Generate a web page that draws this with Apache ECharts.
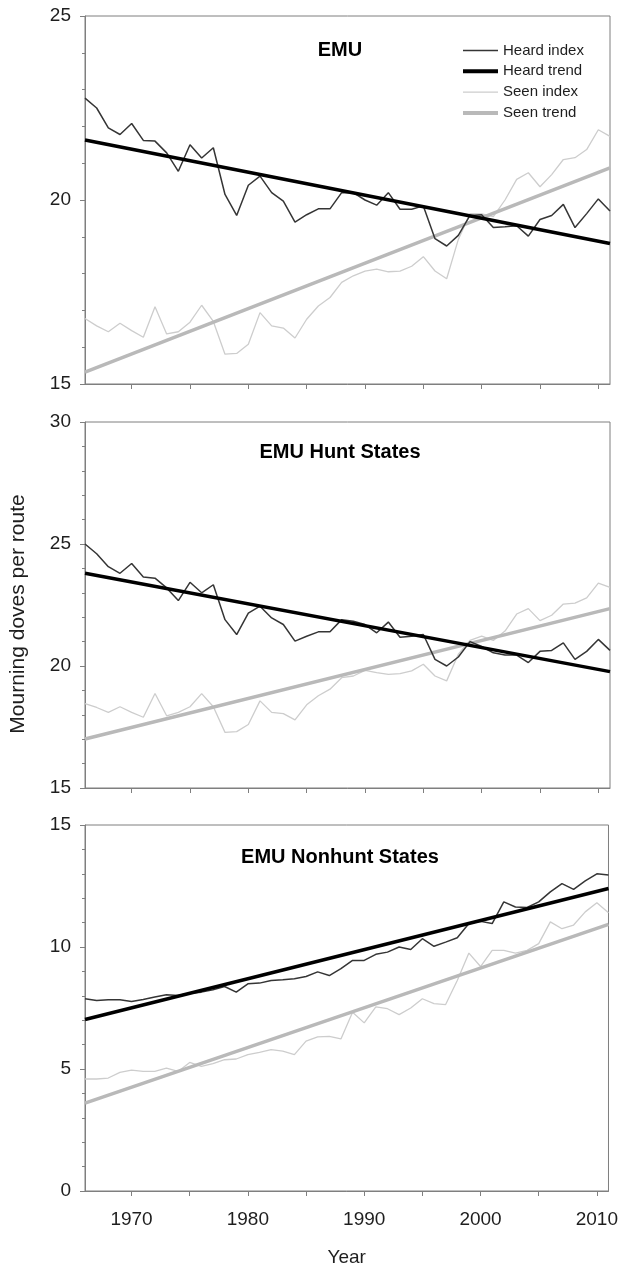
<!DOCTYPE html>
<html>
<head>
<meta charset="utf-8">
<script src="https://cdn.jsdelivr.net/npm/echarts@6/dist/echarts.min.js"></script>
<style>
html,body{margin:0;padding:0;background:#fff;}
#chart{width:621px;height:1270px;}
</style>
</head>
<body>
<div id="chart"></div>
<script>
var years = [1966,1967,1968,1969,1970,1971,1972,1973,1974,1975,1976,1977,1978,1979,1980,1981,1982,1983,1984,1985,1986,1987,1988,1989,1990,1991,1992,1993,1994,1995,1996,1997,1998,1999,2000,2001,2002,2003,2004,2005,2006,2007,2008,2009,2010,2011];
var trendYears = [1966, 2011];
var xTickValues = [1970,1975,1980,1985,1990,1995,2000,2005,2010];
var xLabelValues = [1970,1980,1990,2000,2010];
var panelTitles = ['EMU', 'EMU Hunt States', 'EMU Nonhunt States'];
var seriesNames = ['Heard index', 'Heard trend', 'Seen index', 'Seen trend'];

// EMU
var emuHeard = [22.77,22.5,21.96,21.78,22.08,21.62,21.6,21.28,20.78,21.5,21.14,21.42,20.15,19.58,20.4,20.65,20.2,19.97,19.4,19.6,19.76,19.76,20.2,20.2,20.0,19.86,20.2,19.75,19.75,19.84,18.95,18.75,19.04,19.58,19.6,19.25,19.27,19.3,19.02,19.47,19.58,19.88,19.25,19.63,20.03,19.7];
var emuSeen = [16.78,16.58,16.42,16.65,16.45,16.27,17.1,16.36,16.42,16.68,17.14,16.7,15.81,15.83,16.08,16.94,16.58,16.52,16.25,16.76,17.12,17.35,17.76,17.94,18.07,18.12,18.05,18.07,18.2,18.46,18.07,17.86,18.93,19.63,19.62,19.55,20.0,20.56,20.74,20.36,20.69,21.1,21.15,21.37,21.91,21.73];
var emuHeardTrend = [21.63, 18.82];
var emuSeenTrend = [15.32, 20.87];

// EMU Hunt States
var huntHeard = [25.0,24.6,24.07,23.8,24.2,23.65,23.6,23.2,22.68,23.43,23.0,23.33,21.9,21.29,22.17,22.45,21.97,21.7,21.02,21.22,21.4,21.4,21.9,21.83,21.7,21.36,21.8,21.18,21.22,21.29,20.27,20.0,20.37,21.0,20.8,20.54,20.45,20.45,20.14,20.6,20.64,20.95,20.27,20.6,21.09,20.64];
var huntSeen = [18.46,18.3,18.1,18.33,18.1,17.9,18.87,17.96,18.1,18.33,18.87,18.33,17.28,17.31,17.6,18.57,18.1,18.05,17.79,18.41,18.78,19.05,19.52,19.59,19.82,19.73,19.66,19.69,19.8,20.07,19.59,19.39,20.48,21.05,21.22,21.05,21.43,22.13,22.35,21.86,22.08,22.54,22.58,22.79,23.4,23.22];
var huntHeardTrend = [23.8, 19.77];
var huntSeenTrend = [17.01, 22.35];

// EMU Nonhunt States
var nonhuntHeard = [7.88,7.81,7.84,7.84,7.77,7.85,7.95,8.04,8.01,8.1,8.15,8.25,8.38,8.15,8.49,8.52,8.63,8.66,8.7,8.79,8.98,8.83,9.11,9.45,9.45,9.7,9.79,10.0,9.9,10.34,10.03,10.2,10.38,10.96,11.05,10.96,11.85,11.64,11.62,11.85,12.26,12.6,12.36,12.71,13.0,12.95];
var nonhuntSeen = [4.59,4.59,4.63,4.86,4.95,4.9,4.9,5.04,4.9,5.27,5.11,5.22,5.38,5.41,5.59,5.68,5.79,5.73,5.59,6.14,6.32,6.34,6.23,7.33,6.89,7.55,7.47,7.23,7.5,7.88,7.68,7.64,8.63,9.75,9.2,9.86,9.86,9.75,9.86,10.14,11.03,10.75,10.9,11.44,11.81,11.4];
var nonhuntHeardTrend = [7.03, 12.4];
var nonhuntSeenTrend = [3.6, 10.93];

var yRanges = [[15, 25], [15, 30], [0, 15]];

var FONT = "'Liberation Sans', Arial, sans-serif";
var AXIS_COLOR = '#7f7f7f';
var TEXT_COLOR = '#1e1e1e';

var gridTops = [16, 422, 825];
var gridHeights = [368, 366, 366];

// style per series: [color, width]
var seriesStyles = {
  'Heard index': ['#353535', 1.5],
  'Heard trend': ['#000000', 3.5],
  'Seen index': ['#cdcdcd', 1.3],
  'Seen trend': ['#b9b9b9', 3.5]
};

function pair(xs, vs) { return xs.map(function (x, i) { return [x, vs[i]]; }); }

var panels = [
  [emuHeard, emuHeardTrend, emuSeen, emuSeenTrend],
  [huntHeard, huntHeardTrend, huntSeen, huntSeenTrend],
  [nonhuntHeard, nonhuntHeardTrend, nonhuntSeen, nonhuntSeenTrend]
];

function lineSeries(name, p, data, z) {
  var st = seriesStyles[name];
  return { name: name, type: 'line', xAxisIndex: p, yAxisIndex: p, data: data, symbol: 'none',
    lineStyle: { color: st[0], width: st[1] }, itemStyle: { color: st[0] }, z: z };
}

var grids = [], xAxes = [], yAxes = [], series = [];
for (var p = 0; p < 3; p++) {
  grids.push({ left: 85, right: 11, top: gridTops[p], height: gridHeights[p], show: true, borderColor: AXIS_COLOR, borderWidth: 1, backgroundColor: 'transparent' });
  var last = (p === 2);
  xAxes.push({
    gridIndex: p, type: 'value', min: 1966, max: 2011,
    axisLine: { show: true, lineStyle: { color: AXIS_COLOR, width: 1 } },
    axisTick: { show: true, length: 5, customValues: xTickValues, lineStyle: { color: AXIS_COLOR } },
    axisLabel: { show: last, customValues: xLabelValues, fontSize: 19, fontFamily: FONT, color: TEXT_COLOR, margin: 19,
      formatter: function (v) { return String(Math.round(v)); } },
    splitLine: { show: false },
    name: last ? 'Year' : '', nameLocation: 'middle', nameGap: 57,
    nameTextStyle: { fontSize: 19, fontFamily: FONT, color: TEXT_COLOR }
  });
  yAxes.push({
    gridIndex: p, type: 'value', min: yRanges[p][0], max: yRanges[p][1], interval: 5,
    axisLine: { show: true, lineStyle: { color: AXIS_COLOR, width: 1 } },
    axisTick: { show: true, length: 5, lineStyle: { color: AXIS_COLOR } },
    minorTick: { show: true, splitNumber: 5, length: 3, lineStyle: { color: AXIS_COLOR } },
    axisLabel: { fontSize: 19, fontFamily: FONT, color: TEXT_COLOR, margin: 14 },
    splitLine: { show: false }
  });
  var d = panels[p];
  series.push(
    lineSeries(seriesNames[2], p, pair(years, d[2]), 2),
    lineSeries(seriesNames[3], p, pair(trendYears, d[3]), 3),
    lineSeries(seriesNames[0], p, pair(years, d[0]), 4),
    lineSeries(seriesNames[1], p, pair(trendYears, d[1]), 5)
  );
}

var legendData = seriesNames.map(function (n) {
  var st = seriesStyles[n];
  return { name: n, lineStyle: { color: st[0], width: st[1] > 3 ? 4 : st[1] }, itemStyle: { opacity: 0 } };
});

var titleY = [50, 452, 857];
var graphics = [];
for (var t = 0; t < 3; t++) {
  graphics.push({ type: 'text', x: 340, y: titleY[t], z: 10,
    style: { text: panelTitles[t], font: 'bold 20px ' + FONT, fill: '#000', textAlign: 'center', textVerticalAlign: 'middle', align: 'center', verticalAlign: 'middle' } });
}
graphics.push({ type: 'text', x: 18, y: 614, rotation: Math.PI / 2, z: 10,
  style: { text: 'Mourning doves per route', font: '21px ' + FONT, fill: TEXT_COLOR, textAlign: 'center', textVerticalAlign: 'middle', align: 'center', verticalAlign: 'middle' } });

var chart = echarts.init(document.getElementById('chart'), null, { renderer: 'canvas' });
chart.setOption({
  animation: false,
  backgroundColor: '#fff',
  textStyle: { fontFamily: FONT },
  grid: grids,
  xAxis: xAxes,
  yAxis: yAxes,
  legend: {
    data: legendData, orient: 'vertical', left: 456, top: 38,
    itemWidth: 35, itemHeight: 14, itemGap: 5.8,
    itemStyle: { opacity: 0 },
    textStyle: { fontSize: 15, fontFamily: FONT, color: TEXT_COLOR },
    selectedMode: false
  },
  series: series,
  graphic: graphics
});
</script>
</body>
</html>
